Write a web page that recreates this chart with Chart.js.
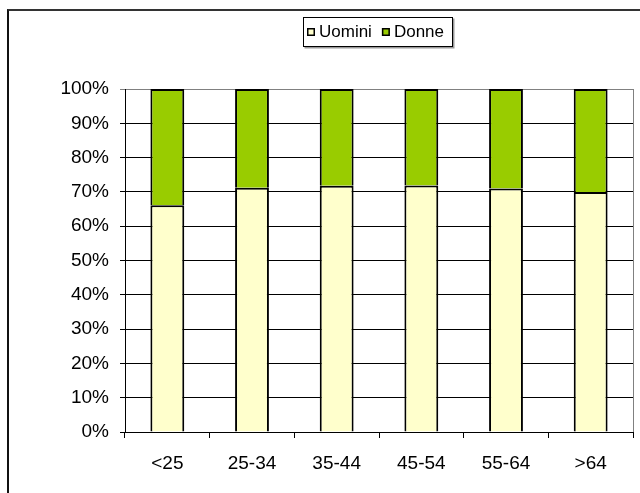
<!DOCTYPE html>
<html lang="it">
<head>
    <meta charset="UTF-8">
    <title>Uomini e Donne per classe di età</title>
    <script src="https://cdn.jsdelivr.net/npm/chart.js"></script>
    <style>
        html, body { margin: 0; padding: 0; background: #fff; overflow: hidden; }
        #wrap { position: relative; width: 640px; height: 493px; }
        #frame {
            position: absolute; left: 7px; top: 9px; width: 700px; height: 600px;
            border-top: 2px solid #333; border-left: 2px solid #111;
            pointer-events: none;
        }
        canvas { position: absolute; left: 0; top: 0; }
    </style>
</head>
<body>
<div id="wrap">
    <canvas id="chart" width="640" height="493"></canvas>
    <div id="frame"></div>
</div>

<script>
    // classi di età
    const ageGroups = ['<25', '25-34', '35-44', '45-54', '55-64', '>64'];
    // quota percentuale per sesso
    const uomini = [66.1, 71.2, 71.8, 71.9, 71.0, 70.0];
    const donne = [33.9, 28.8, 28.2, 28.1, 29.0, 30.0];
    const yTicks = [0, 10, 20, 30, 40, 50, 60, 70, 80, 90, 100];

    const FONT = '"Liberation Sans", Arial, sans-serif';

    // legenda disegnata a mano, come nel grafico di Excel
    const boxLegend = {
        id: 'boxLegend',
        afterDraw(chart) {
            const ctx = chart.ctx;
            ctx.save();
            ctx.font = '17px ' + FONT;
            ctx.textBaseline = 'middle';
            const items = chart.data.datasets;
            let x = 307;
            const cy = 32;
            // cornice con ombra
            ctx.fillStyle = '#999';
            ctx.fillRect(304.5, 18.5, 150, 30);
            ctx.fillStyle = '#fff';
            ctx.fillRect(303, 17, 149, 30);
            ctx.strokeStyle = '#000';
            ctx.lineWidth = 1;
            ctx.strokeRect(303.5, 17.5, 149, 29);
            items.forEach(ds => {
                ctx.fillStyle = ds.backgroundColor;
                ctx.fillRect(x, cy - 4, 8, 8);
                ctx.lineWidth = 1.5;
                ctx.strokeStyle = '#000';
                ctx.strokeRect(x + 0.75, cy - 3.25, 6.5, 6.5);
                ctx.fillStyle = '#000';
                ctx.fillText(ds.label, x + 12, cy);
                x += 12 + ctx.measureText(ds.label).width + 10;
            });
            ctx.restore();
        }
    };

    // bordo destro dell'area del tracciato
    const plotBorder = {
        id: 'plotBorder',
        afterDraw(chart) {
            const a = chart.chartArea;
            const ctx = chart.ctx;
            ctx.save();
            ctx.strokeStyle = '#808080';
            ctx.lineWidth = 1;
            ctx.beginPath();
            ctx.moveTo(Math.round(a.right) + 0.5, a.top);
            ctx.lineTo(Math.round(a.right) + 0.5, a.bottom);
            ctx.stroke();
            ctx.restore();
        }
    };

    const config = {
        type: 'bar',
        data: {
            labels: ageGroups,
            datasets: [
                {
                    label: 'Uomini',
                    data: uomini,
                    backgroundColor: '#FFFFCC',
                    borderColor: '#000',
                    borderWidth: 2
                },
                {
                    label: 'Donne',
                    data: donne,
                    backgroundColor: '#99CC00',
                    borderColor: '#000',
                    borderWidth: 2
                }
            ]
        },
        options: {
            responsive: false,
            animation: false,
            layout: { padding: { top: 89, right: 7, left: 0, bottom: 0 } },
            datasets: {
                bar: { categoryPercentage: 1, barPercentage: 0.4 }
            },
            plugins: {
                legend: { display: false },
                tooltip: { enabled: false }
            },
            scales: {
                x: {
                    stacked: true,
                    afterFit(scale) { scale.height = 61; },
                    grid: {
                        drawOnChartArea: false,
                        drawTicks: true,
                        tickLength: 6,
                        color: '#000'
                    },
                    border: { color: '#000', width: 1 },
                    ticks: {
                        color: '#000',
                        padding: 14,
                        font: { family: FONT, size: 19 }
                    }
                },
                y: {
                    stacked: true,
                    min: 0,
                    max: 100,
                    afterFit(scale) { scale.width = 125; },
                    afterBuildTicks(scale) { scale.ticks = yTicks.map(v => ({ value: v })); },
                    grid: {
                        color: ctx => (ctx.tick && ctx.tick.value === 100) ? '#808080' : '#000',
                        tickLength: 5,
                        lineWidth: 1
                    },
                    border: { color: '#000', width: 1 },
                    ticks: {
                        color: '#000',
                        padding: 11,
                        font: { family: FONT, size: 19 },
                        callback: v => v + '%'
                    }
                }
            }
        },
        plugins: [boxLegend, plotBorder]
    };

    new Chart(document.getElementById('chart'), config);
</script>
</body>
</html>
